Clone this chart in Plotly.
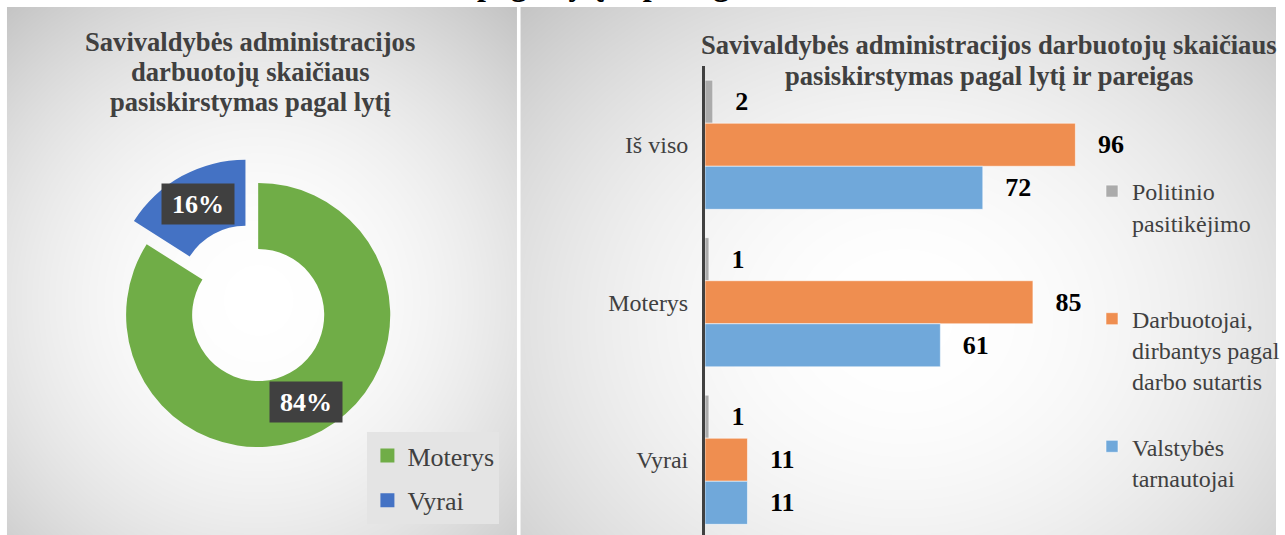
import math
import numpy as np
import plotly.graph_objects as go

W, H = 1285, 535
SERIF = "Liberation Serif"

# ---------------- data ----------------
pie_labels = ["Moterys", "Vyrai"]
pie_values = [84, 16]
pie_colors = ["#70AD47", "#4472C4"]
pie_pull = [0, 0.2]

bar_categories = ["Iš viso", "Moterys", "Vyrai"]
series_names = [
    "Politinio<br>pasitikėjimo<br>\u00a0",
    "Darbuotojai,<br>dirbantys pagal<br>darbo sutartis",
    "Valstybės<br>tarnautojai<br>\u00a0",
]
politinio = [2, 1, 1]
darbuotojai = [96, 85, 11]
valstybes = [72, 61, 11]
bar_series = [politinio, darbuotojai, valstybes]
bar_colors = ["#ABABAB", "#EF8E50", "#70A8DA"]

left_title = ["Savivaldybės administracijos", "darbuotojų skaičiaus", "pasiskirstymas pagal lytį"]
right_title = ["Savivaldybės administracijos darbuotojų skaičiaus", "pasiskirstymas pagal lytį ir pareigas"]
heading_tail = "pagal lytį ir pareigas,"


def fx(px):
    return px / W


def fy(py):
    return 1 - py / H


fig = go.Figure()

# ---------------- panel backgrounds (radial gradients) ----------------
def radial(x0, x1, y0, y1, cx, cy, ax, ay, k, n=70):
    xs = np.linspace(x0, x1, n)
    ys = np.linspace(y0, y1, n)
    X, Y = np.meshgrid(xs, ys)
    d2 = ((X - cx) / ax) ** 2 + ((Y - cy) / ay) ** 2
    Z = np.clip(255 - k * d2, 190, 255)
    return xs, ys, Z

gs = [[0, "rgb(190,190,190)"], [1, "rgb(255,255,255)"]]
xs, ys, Z = radial(7, 521, 7, 535, 260, 300, 387, 387, 59)
fig.add_trace(go.Heatmap(x=xs, y=ys, z=Z, colorscale=gs, zmin=190, zmax=255, zsmooth="best",
                         showscale=False, hoverinfo="skip", xaxis="x", yaxis="y"))
xs, ys, Z = radial(524, 1285, 7, 535, 910, 320, 400, 330, 32)
fig.add_trace(go.Heatmap(x=xs, y=ys, z=Z, colorscale=gs, zmin=190, zmax=255, zsmooth="best",
                         showscale=False, hoverinfo="skip", xaxis="x2", yaxis="y2"))

# ---------------- bars ----------------
for name, vals, col in zip(series_names, bar_series, bar_colors):
    fig.add_trace(go.Bar(
        y=bar_categories, x=vals, orientation="h", name=name,
        marker=dict(color=col, line=dict(color="rgba(255,255,255,0.55)", width=1)),
        text=vals, texttemplate="\u00a0\u00a0\u00a0%{x}", textposition="outside",
        textfont=dict(family=SERIF, size=26, color="black", weight="bold"),
        cliponaxis=False, constraintext="none",
        xaxis="x3", yaxis="y3", legend="legend2", legendgroup=name, hoverinfo="skip",
    ))

# ---------------- pie ----------------
cx, cy, r, hole = 260, 315, 133, 0.5
half = r * (1 + max(pie_pull))
fig.add_trace(go.Pie(
    labels=pie_labels, values=pie_values, hole=hole, pull=pie_pull, sort=False,
    direction="clockwise", rotation=0,
    marker=dict(colors=pie_colors, line=dict(width=0)),
    textinfo="none", showlegend=False, hoverinfo="skip",
    domain=dict(x=[fx(cx - half), fx(cx + half)], y=[fy(cy + half), fy(cy - half)]),
))

# legend entries for pie
for lab, col in zip(pie_labels, pie_colors):
    fig.add_trace(go.Scatter(x=[None], y=[None], mode="markers", name=lab,
                             marker=dict(symbol="square", size=14, color=col),
                             legend="legend", legendgroup="pie_" + lab,
                             xaxis="x3", yaxis="y3", hoverinfo="skip"))

annotations = []
# percent labels on donut
total = sum(pie_values)
cum = 0
for v, p in zip(pie_values, pie_pull):
    frac = v / total
    mid = (cum + frac / 2) * 2 * math.pi
    cum += frac
    rr = r * (1 + hole) / 2 + p * r
    px = cx + rr * math.sin(mid)
    py = cy - rr * math.cos(mid)
    annotations.append(dict(
        x=fx(px), y=fy(py), xref="paper", yref="paper", showarrow=False,
        text=f"{round(100 * frac)}%", xanchor="center", yanchor="middle",
        font=dict(family=SERIF, size=26, color="white", weight="bold"),
        bgcolor="#404040", width=68, height=36, borderpad=2,
    ))

# titles
for i, line in enumerate(left_title):
    annotations.append(dict(x=fx(252), y=fy(42 + 30 * i), xref="paper", yref="paper", showarrow=False,
                            text=line, xanchor="center", yanchor="middle",
                            font=dict(family=SERIF, size=26.6, color="#404040", weight="bold")))
for i, line in enumerate(right_title):
    annotations.append(dict(x=fx(996), y=fy(45 + 31 * i), xref="paper", yref="paper", showarrow=False,
                            text=line, xanchor="center", yanchor="middle",
                            font=dict(family=SERIF, size=26.6, color="#404040", weight="bold")))
annotations.append(dict(x=fx(626), y=fy(-16), xref="paper", yref="paper", showarrow=False,
                        text=heading_tail, xanchor="center", yanchor="middle",
                        font=dict(family=SERIF, size=32, color="black", weight="bold")))

fig.update_layout(
    width=W, height=H,
    margin=dict(l=0, r=0, t=0, b=0, pad=0),
    paper_bgcolor="white", plot_bgcolor="rgba(0,0,0,0)",
    barmode="group", bargap=0.18, bargroupgap=0,
    showlegend=True,
    annotations=annotations,
    xaxis=dict(domain=[fx(7), fx(521)], range=[7, 521], visible=False, anchor="y"),
    yaxis=dict(domain=[0, fy(7)], range=[535, 7], visible=False, anchor="x"),
    xaxis2=dict(domain=[fx(524), 1], range=[524, 1285], visible=False, anchor="y2"),
    yaxis2=dict(domain=[0, fy(7)], range=[535, 7], visible=False, anchor="x2"),
    xaxis3=dict(domain=[fx(710), fx(710 + 100 * 3.885)], range=[0, 100], visible=False, anchor="y3"),
    yaxis3=dict(domain=[0, fy(66)], type="category", categoryorder="array", categoryarray=bar_categories,
                range=[-0.5 + (535 - 66) / 157.5, -0.5], showline=True, linecolor="#404040", linewidth=3,
                showgrid=False, zeroline=False, ticks="", ticklabelstandoff=9,
                tickfont=dict(family=SERIF, size=24, color="#404040"), anchor="x3"),
    legend=dict(x=fx(370), y=fy(432), xanchor="left", yanchor="top", bgcolor="#e4e4e4",
                font=dict(family=SERIF, size=26, color="#404040"), tracegroupgap=8,
                traceorder="grouped"),
    legend2=dict(x=fx(1100), y=fy(169), xanchor="left", yanchor="top", bgcolor="rgba(0,0,0,0)",
                 font=dict(family=SERIF, size=24, color="#404040"), tracegroupgap=31,
                 traceorder="grouped", valign="top"),
)

post = (
    "document.documentElement.style.margin='0';"
    "document.documentElement.style.padding='0';"
    "document.documentElement.style.overflow='hidden';"
    "document.body.style.margin='0';"
    "document.body.style.padding='0';"
    "document.body.style.overflow='hidden';"
    "document.body.style.width='1285px';"
    "document.body.style.height='535px';"
)
fig.write_html("out.html", config={"displayModeBar": False}, post_script=post)
